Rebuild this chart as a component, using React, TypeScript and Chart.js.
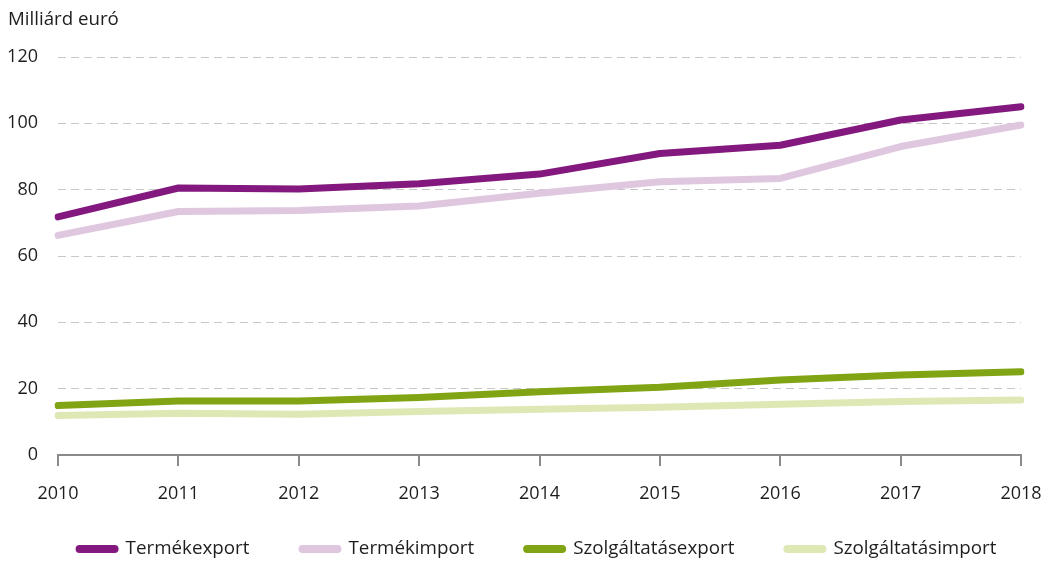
import React, { useEffect, useRef } from 'react';
import { Chart, registerables } from 'chart.js';

Chart.register(...registerables);

const years = ['2010', '2011', '2012', '2013', '2014', '2015', '2016', '2017', '2018'];
const termekExport = [71.8, 80.5, 80.2, 81.8, 84.7, 90.9, 93.4, 101.0, 105.0];
const termekImport = [66.2, 73.4, 73.7, 75.1, 78.9, 82.4, 83.4, 93.0, 99.5];
const szolgExport = [14.9, 16.3, 16.3, 17.3, 19.1, 20.4, 22.6, 24.1, 25.1];
const szolgImport = [11.9, 12.6, 12.3, 13.1, 13.8, 14.4, 15.3, 16.1, 16.6];
const seriesNames = ['Termékexport', 'Termékimport', 'Szolgáltatásexport', 'Szolgáltatásimport'];
const seriesColors = ['#83197e', '#dfc7df', '#80a414', '#dee8b5'];
const unitLabel = 'Milliárd euró';

const FONT = '"Open Sans"';
const TEXT = '#1e1e1e';

export default function App() {
  const ref = useRef<HTMLCanvasElement | null>(null);

  useEffect(() => {
    if (!ref.current) return;
    const values = [termekExport, termekImport, szolgExport, szolgImport];

    const unitPlugin = {
      id: 'unitLabel',
      afterDraw(chart: any) {
        const ctx = chart.ctx;
        ctx.save();
        ctx.font = `18.7px ${FONT}`;
        ctx.fillStyle = TEXT;
        ctx.textAlign = 'left';
        ctx.textBaseline = 'alphabetic';
        ctx.fillText(unitLabel, 8, 25);
        ctx.restore();
      },
    };

    // legend drawn below the x axis, centred, from the datasets
    const legendPlugin = {
      id: 'bottomLegend',
      afterDraw(chart: any) {
        const ctx = chart.ctx;
        const boxW = 43;
        const boxH = 8;
        const textGap = 7;
        const itemGap = 49;
        const cy = 549;
        ctx.save();
        ctx.font = `18.8px ${FONT}`;
        const items = chart.data.datasets.map((d: any) => ({
          label: d.label,
          color: d.borderColor,
          w: ctx.measureText(d.label).width,
        }));
        const total =
          items.reduce((s: number, it: any) => s + boxW + textGap + it.w, 0) + itemGap * (items.length - 1);
        let x = 536 - total / 2;
        items.forEach((it: any) => {
          ctx.fillStyle = it.color;
          ctx.beginPath();
          (ctx as any).roundRect(x, cy - boxH / 2, boxW, boxH, boxH / 2);
          ctx.fill();
          ctx.fillStyle = TEXT;
          ctx.textAlign = 'left';
          ctx.textBaseline = 'middle';
          ctx.fillText(it.label, x + boxW + textGap, cy);
          x += boxW + textGap + it.w + itemGap;
        });
        ctx.restore();
      },
    };

    const chart = new Chart(ref.current, {
      type: 'line',
      data: {
        labels: years,
        datasets: seriesNames.map((name, i) => ({
          label: name,
          data: values[i],
          borderColor: seriesColors[i],
          backgroundColor: seriesColors[i],
          borderWidth: 7,
          borderCapStyle: 'round',
          borderJoinStyle: 'round',
          pointRadius: 0,
          tension: 0,
          fill: false,
        })),
      },
      options: {
        responsive: false,
        animation: false,
        layout: { padding: { left: 0, right: 29, top: 57, bottom: 0 } },
        plugins: {
          tooltip: { enabled: false },
          legend: { display: false },
        },
        scales: {
          x: {
            offset: false,
            afterFit: (s: any) => {
              s.height = 107;
              s.paddingLeft = 0;
              s.paddingRight = 0;
            },
            grid: {
              display: true,
              drawOnChartArea: false,
              drawTicks: true,
              tickLength: 11,
              color: '#8a8a8a',
              lineWidth: 2,
            },
            border: { display: true, color: '#8a8a8a', width: 2 },
            ticks: {
              color: TEXT,
              font: { family: FONT, size: 18 },
              padding: 17,
              maxRotation: 0,
            },
          },
          y: {
            min: 0,
            max: 120,
            afterFit: (s: any) => {
              s.width = 58;
            },
            grid: {
              color: '#c8c8c8',
              lineWidth: 1,
              drawTicks: false,
            },
            border: { display: false, dash: [8, 5] },
            ticks: {
              stepSize: 20,
              color: TEXT,
              font: { family: FONT, size: 18 },
              padding: 20,
            },
          },
        },
      },
      plugins: [unitPlugin, legendPlugin],
    } as any);
    return () => chart.destroy();
  }, []);

  return (
    <div style={{ position: 'fixed', left: 0, top: 0, width: 1050, height: 562 }}>
      <canvas ref={ref} width={1050} height={562} style={{ display: 'block' }} />
    </div>
  );
}
